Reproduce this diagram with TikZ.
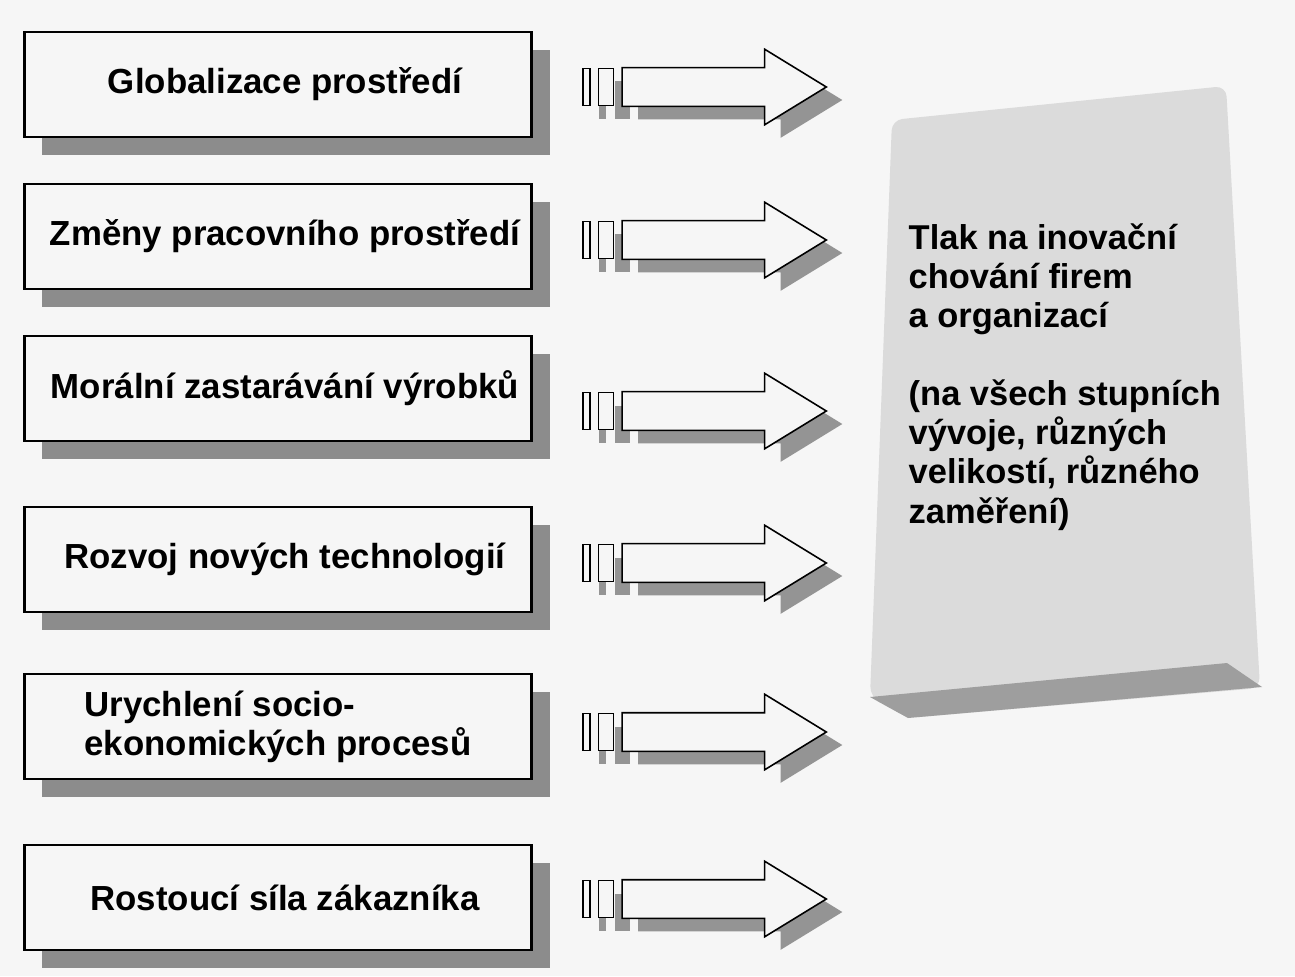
\documentclass[tikz,border=0pt]{standalone}
\usepackage{fontspec}
\setmainfont{Liberation Sans}
\usetikzlibrary{positioning, shapes.arrows, shadows}
\definecolor{paper}{gray}{0.965}
\definecolor{boxshade}{gray}{0.55}
\definecolor{arrowshade}{gray}{0.58}
\definecolor{panelfill}{gray}{0.86}
\definecolor{slabfill}{gray}{0.62}
\tikzset{
  factor/.style={
    rectangle, draw=black, line width=0.8pt, fill=paper,
    minimum width=5.07cm, minimum height=1.05cm, inner sep=2pt,
    font=\fontsize{9.9}{11.1}\selectfont\bfseries, align=center,
    drop shadow={shadow xshift=0.18cm, shadow yshift=-0.18cm, fill=boxshade, opacity=1}
  },
  push/.style={
    single arrow, draw=black, line width=0.45pt, fill=paper, inner sep=0pt,
    minimum height=2.04cm, single arrow head extend=0.185cm,
    single arrow tip angle=63,
    drop shadow={shadow xshift=0.16cm, shadow yshift=-0.13cm, fill=arrowshade, opacity=1}
  },
  tailbar/.style={
    rectangle, draw=black, line width=0.45pt, fill=paper, inner sep=0pt,
    minimum height=0.37cm,
    drop shadow={shadow xshift=0.16cm, shadow yshift=-0.13cm, fill=arrowshade, opacity=1}
  },
  paneltext/.style={font=\fontsize{9.8}{11.1}\selectfont\bfseries, align=left, inner sep=0pt},
}
\newcommand{\shaft}{\rule{0pt}{0.37cm}}

\begin{document}
\begin{tikzpicture}[x=0.01cm, y=-0.01cm]
  \useasboundingbox (0,0) rectangle (1295,976);
  \fill[paper] (0,0) rectangle (1295,976);

  % the six factors on the left
  \node[factor] (glob) at (278,84.5) {\hspace*{0.14cm}Globalizace prostředí};
  \node[factor] (zmeny) at (278,236.5) {\hspace*{0.14cm}Změny pracovního prostředí};
  \node[factor] (moral) at (278,388.5) {\hspace*{0.14cm}Morální zastarávání výrobků};
  \node[factor] (rozvoj) at (278,559.5) {\hspace*{0.14cm}Rozvoj nových technologií};
  \node[factor, align=left] (urych) at (278,726.5) {Urychlení socio-\\ekonomických procesů};
  \node[factor] (zakaz) at (278,897.5) {\hspace*{0.14cm}Rostoucí síla zákazníka};

  % arrows with the two bars at the tail
  \node[tailbar, minimum width=0.07cm] (globA) at (586.5,87) {};
  \node[tailbar, minimum width=0.15cm, right=0.07cm of globA] (globB) {};
  \node[push, right=0.07cm of globB, anchor=tail] (globP) {\shaft};

  \node[tailbar, minimum width=0.07cm] (zmenyA) at (586.5,240) {};
  \node[tailbar, minimum width=0.15cm, right=0.07cm of zmenyA] (zmenyB) {};
  \node[push, right=0.07cm of zmenyB, anchor=tail] (zmenyP) {\shaft};

  \node[tailbar, minimum width=0.07cm] (moralA) at (586.5,411) {};
  \node[tailbar, minimum width=0.15cm, right=0.07cm of moralA] (moralB) {};
  \node[push, right=0.07cm of moralB, anchor=tail] (moralP) {\shaft};

  \node[tailbar, minimum width=0.07cm] (rozvojA) at (586.5,563) {};
  \node[tailbar, minimum width=0.15cm, right=0.07cm of rozvojA] (rozvojB) {};
  \node[push, right=0.07cm of rozvojB, anchor=tail] (rozvojP) {\shaft};

  \node[tailbar, minimum width=0.07cm] (urychA) at (586.5,732) {};
  \node[tailbar, minimum width=0.15cm, right=0.07cm of urychA] (urychB) {};
  \node[push, right=0.07cm of urychB, anchor=tail] (urychP) {\shaft};

  \node[tailbar, minimum width=0.07cm] (zakazA) at (586.5,899) {};
  \node[tailbar, minimum width=0.15cm, right=0.07cm of zakazA] (zakazB) {};
  \node[push, right=0.07cm of zakazB, anchor=tail] (zakazP) {\shaft};

  % the grey panel and its base slab
  \fill[panelfill, rounded corners=3pt] (892,120) -- (1226,86) -- (1260,688) -- (908,718) -- (870,697) -- cycle;
  \fill[slabfill] (870,697) -- (1227,663) -- (1262,687) -- (908,718) -- cycle;

  % base of a multi-line node is its last line
  \node[paneltext, anchor=base west] (tlak) at (908,523)
    {Tlak na inovační\\chování firem\\a organizací\\[11.1pt]%
     (na všech stupních\\vývoje, různých\\velikostí, různého\\zaměření)};
\end{tikzpicture}
\end{document}
